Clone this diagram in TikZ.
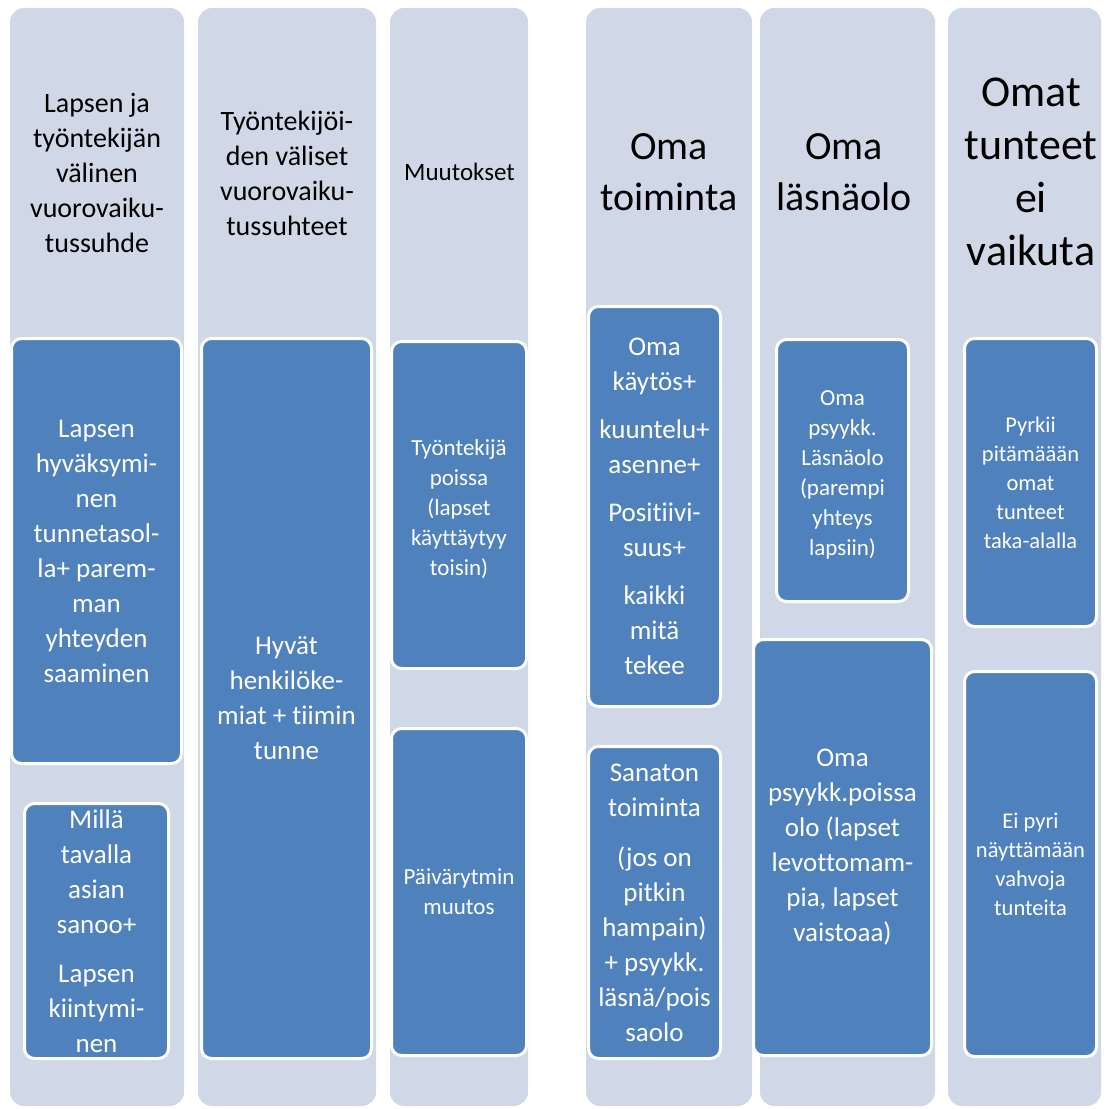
\documentclass[tikz,border=0pt]{standalone}
\usepackage{fontspec}
\setmainfont{Carlito}[Ligatures={NoCommon}]
\definecolor{colbg}{HTML}{D0D8E8}
\definecolor{boxbl}{HTML}{4F81BD}
\begin{document}
\begin{tikzpicture}[x=1pt,y=-1pt,
  colbox/.style={fill=colbg, draw=none, rounded corners=14pt, inner sep=0pt, minimum height=1098pt},
  bluebox/.style={fill=boxbl, draw=white, line width=3pt, rounded corners=10pt, inner sep=0pt},
  head/.style={text=black, align=center, inner sep=0pt},
  btext/.style={text=white, align=center, inner sep=0pt},
  hsmall/.style={font=\fontsize{28}{35}\selectfont},
  hmid/.style={font=\fontsize{25}{30}\selectfont},
  hbig/.style={font=\fontsize{40}{51}\selectfont},
  hhuge/.style={font=\fontsize{44}{53}\selectfont},
  tnorm/.style={font=\fontsize{27}{35}\selectfont},
  tsmall/.style={font=\fontsize{23}{30}\selectfont},
  tsmaller/.style={font=\fontsize{22.5}{29}\selectfont}
]
\useasboundingbox (0,0) rectangle (1113,1108);
\fill[white] (0,0) rectangle (1113,1108);

% columns
\node[colbox, minimum width=174pt] (c1) at (97,557) {};
\node[colbox, minimum width=178pt] (c2) at (287,557) {};
\node[colbox, minimum width=138pt] (c3) at (459,557) {};
\node[colbox, minimum width=166pt] (c4) at (669,557) {};
\node[colbox, minimum width=175pt] (c5) at (847.5,557) {};
\node[colbox, minimum width=153pt] (c6) at (1024.5,557) {};

% headers
\node[head, hsmall] (h1) at (97,173) {Lapsen ja\\työntekijän\\välinen\\vuorovaiku-\\tussuhde};
\node[head, hsmall] (h2) at (287,173) {Työntekijöi-\\den väliset\\vuorovaiku-\\tussuhteet};
\node[head, hmid] (h3) at (459.5,172) {Muutokset};
\node[head, hbig] (h4) at (669,172) {Oma\\toiminta};
\node[head, hbig] (h5) at (844,172) {Oma\\läsnäolo};
\node[head, hhuge] (h6) at (1031,172) {Omat\\tunteet\\ei\\vaikuta};

% blue boxes
\node[bluebox, minimum width=170pt, minimum height=425pt] (b11) at (96.5,551) {};
\node[bluebox, minimum width=144pt, minimum height=255pt] (b12) at (96.5,931) {};
\node[bluebox, minimum width=170pt, minimum height=720pt] (b21) at (286.5,698.5) {};
\node[bluebox, minimum width=135pt, minimum height=327pt] (b31) at (459,505) {};
\node[bluebox, minimum width=135pt, minimum height=327pt] (b32) at (459,892) {};
\node[bluebox, minimum width=132pt, minimum height=400pt] (b41) at (654.5,506.5) {};
\node[bluebox, minimum width=132pt, minimum height=312pt] (b42) at (654.5,902.5) {};
\node[bluebox, minimum width=132pt, minimum height=262pt] (b51) at (842.5,470.5) {};
\node[bluebox, minimum width=178pt, minimum height=416pt] (b52) at (842.5,847.5) {};
\node[bluebox, minimum width=132pt, minimum height=288pt] (b61) at (1030.5,482.5) {};
\node[bluebox, minimum width=132pt, minimum height=385pt] (b62) at (1030.5,864) {};

% box texts
\node[btext, tnorm] (t11) at (b11) {Lapsen\\hyväksymi-\\nen\\tunnetasol-\\la+ parem-\\man\\yhteyden\\saaminen};
\node[btext, tnorm] (t12) at (b12) {Millä\\tavalla\\asian\\sanoo+\\[14pt]Lapsen\\kiintymi-\\nen};
\node[btext, tnorm] (t21) at (b21) {Hyvät\\henkilöke-\\miat + tiimin\\tunne};
\node[btext, tsmall] (t31) at ([yshift=-4pt]b31) {Työntekijä\\poissa\\(lapset\\käyttäytyy\\toisin)};
\node[btext, tsmall] (t32) at (b32) {Päivärytmin\\muutos};
\node[btext, tnorm] (t41) at (b41) {Oma\\käytös+\\[13pt]kuuntelu+\\asenne+\\[13pt]Positiivi-\\suus+\\[13pt]kaikki\\mitä\\tekee};
\node[btext, tnorm] (t42) at (b42) {Sanaton\\toiminta\\[15pt](jos on\\pitkin\\hampain)\\+ psyykk.\\läsnä/pois\\saolo};
\node[btext, tsmall] (t51) at ([yshift=-4pt]b51) {Oma\\psyykk.\\Läsnäolo\\(parempi\\yhteys\\lapsiin)};
\node[btext, tnorm] (t52) at (b52) {Oma\\psyykk.poissa\\olo (lapset\\levottomam-\\pia, lapset\\vaistoaa)};
\node[btext, tsmaller] (t61) at (b61) {Pyrkii\\pitämäään\\omat\\tunteet\\taka-alalla};
\node[btext, tsmaller] (t62) at (b62) {Ei pyri\\näyttämään\\vahvoja\\tunteita};
\end{tikzpicture}
\end{document}
